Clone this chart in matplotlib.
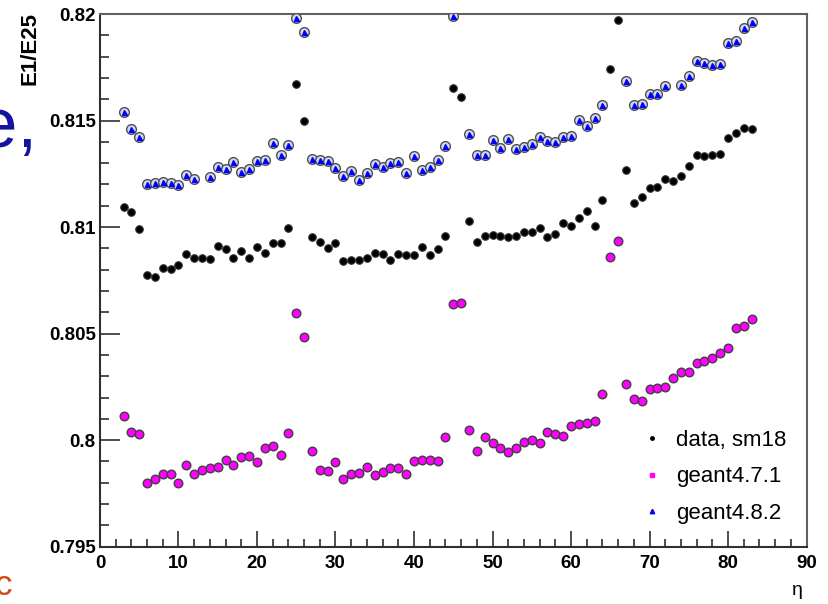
import numpy as np
import matplotlib
matplotlib.use("Agg")
import matplotlib.pyplot as plt
from matplotlib.lines import Line2D
from matplotlib.ticker import MultipleLocator, FuncFormatter

plt.rcParams['font.family'] = ['Liberation Sans', 'DejaVu Sans']

# ------------------------------------------------------------
# data
# ------------------------------------------------------------

eta = list(range(3, 84))

data_sm18 = [
    0.81093, 0.81071, 0.80991, 0.80775, 0.80767, 0.80810, 0.80802, 0.80822,
    0.80874, 0.80856, 0.80853, 0.80850, 0.80911, 0.80897, 0.80853, 0.80889,
    0.80853, 0.80908, 0.80877, 0.80924, 0.80924, 0.80994, 0.81670, 0.81499,
    0.80952, 0.80931, 0.80900, 0.80927, 0.80842, 0.80845, 0.80847, 0.80853,
    0.80877, 0.80874, 0.80845, 0.80874, 0.80869, 0.80869, 0.80908, 0.80869,
    0.80895, 0.80958, 0.81651, 0.81609, 0.81028, 0.80931, 0.80960, 0.80963,
    0.80960, 0.80955, 0.80958, 0.80975, 0.80975, 0.80994, 0.80955, 0.80966,
    0.81021, 0.81007, 0.81044, 0.81077, 0.81007, 0.81128, 0.81740, 0.81972,
    0.81268, 0.81111, 0.81140, 0.81182, 0.81190, 0.81226, 0.81217, 0.81241,
    0.81288, 0.81338, 0.81333, 0.81337, 0.81341, 0.81416, 0.81440, 0.81463,
    0.81458,
]

geant471 = [
    0.80115, 0.80037, 0.80027, 0.79800, 0.79816, 0.79839, 0.79842, 0.79801,
    0.79883, 0.79842, 0.79858, 0.79869, 0.79872, 0.79908, 0.79882, 0.79922,
    0.79924, 0.79897, 0.79965, 0.79971, 0.79932, 0.80032, 0.80595, 0.80486,
    0.79950, 0.79858, 0.79853, 0.79897, 0.79816, 0.79839, 0.79844, 0.79875,
    0.79836, 0.79851, 0.79867, 0.79867, 0.79841, 0.79904, 0.79907, 0.79907,
    0.79900, 0.80016, 0.80637, 0.80645, 0.80048, 0.79949, 0.80016, 0.79988,
    0.79965, 0.79943, 0.79965, 0.79990, 0.80001, 0.79988, 0.80040, 0.80029,
    0.80021, 0.80068, 0.80076, 0.80082, 0.80090, 0.80215, 0.80861, 0.80936,
    0.80262, 0.80191, 0.80185, 0.80240, 0.80243, 0.80250, 0.80290, 0.80321,
    0.80318, 0.80364, 0.80373, 0.80384, 0.80407, 0.80431, 0.80525, 0.80536,
    0.80567,
]

eta_g482 = (list(range(3, 13)) + list(range(14, 46)) + list(range(47, 65))
            + list(range(67, 73)) + list(range(74, 84)))

geant482 = [
    0.81538, 0.81459, 0.81424, 0.81201, 0.81205, 0.81212, 0.81205, 0.81196,
    0.81246, 0.81227,
    0.81237, 0.81283, 0.81271, 0.81304, 0.81260, 0.81273, 0.81312, 0.81315,
    0.81393, 0.81338, 0.81384, 0.81980, 0.81917, 0.81320, 0.81315, 0.81310,
    0.81279, 0.81241, 0.81265, 0.81221, 0.81252, 0.81294, 0.81280, 0.81299,
    0.81307, 0.81252, 0.81335, 0.81268, 0.81283, 0.81315, 0.81382, 0.81991,
    0.81435, 0.81338, 0.81338, 0.81409, 0.81370, 0.81412, 0.81366, 0.81374,
    0.81390, 0.81424, 0.81404, 0.81401, 0.81424, 0.81429, 0.81503, 0.81476,
    0.81510, 0.81573,
    0.81687, 0.81573, 0.81576, 0.81625, 0.81623, 0.81664,
    0.81667, 0.81709, 0.81779, 0.81768, 0.81760, 0.81765, 0.81862, 0.81872,
    0.81933, 0.81961,
]

err_data = 0.00012
err_geant = 0.0001

labels = ["data, sm18", "geant4.7.1", "geant4.8.2"]

# ------------------------------------------------------------
# figure
# ------------------------------------------------------------

fig = plt.figure(figsize=(8.29, 6.04), dpi=100)
ax = fig.add_axes([0.1206, 0.0949, 0.8523, 0.8819])

ax.errorbar(eta, data_sm18, yerr=err_data, xerr=0.35, fmt='o', ms=5.4,
            mfc='black', mec='#303030', mew=0.8, ecolor='black',
            elinewidth=1.0, capsize=1.5, zorder=3)

ax.errorbar(eta, geant471, yerr=err_geant, fmt='o', ms=6.2,
            mfc='#ff00ff', mec='#404040', mew=1.0, ecolor='#202020',
            elinewidth=1.0, capsize=1.8, zorder=3)

ax.errorbar(eta_g482, geant482, yerr=err_geant, fmt='o', ms=7.0,
            mfc='#d4daf0', mec='#505050', mew=1.0, ecolor='#202020',
            elinewidth=1.0, capsize=1.8, zorder=4)
ax.plot(eta_g482, geant482, '^', ms=3.6, color='#0000ff', zorder=5)

ax.set_xlim(0, 90)
ax.set_ylim(0.795, 0.82)

ax.xaxis.set_major_locator(MultipleLocator(10))
ax.xaxis.set_minor_locator(MultipleLocator(2))
ax.yaxis.set_major_locator(MultipleLocator(0.005))
ax.yaxis.set_minor_locator(MultipleLocator(0.001))
ax.yaxis.set_major_formatter(FuncFormatter(lambda v, p: "%g" % round(v, 4)))

ax.tick_params(axis='both', which='both', direction='in', top=False,
               right=False, color='#303030', width=1.2)
ax.tick_params(axis='x', which='major', length=11.5, pad=6)
ax.tick_params(axis='x', which='minor', length=5.8)
ax.tick_params(axis='y', which='major', length=14.4, pad=3)
ax.tick_params(axis='y', which='minor', length=6.5)

for lab in ax.get_xticklabels() + ax.get_yticklabels():
    lab.set_fontsize(13.5)
    lab.set_fontweight('bold')

for side in ['left', 'bottom']:
    ax.spines[side].set_color('#303030')
    ax.spines[side].set_linewidth(1.5)
for side in ['top', 'right']:
    ax.spines[side].set_color('#606060')
    ax.spines[side].set_linewidth(1.5)

fig.text(0.036, 0.98, "E1/E25", rotation=90, ha='center', va='top',
         fontsize=16, fontweight='bold')
fig.text(0.962, 0.023, "\u03b7", ha='center', va='center', fontsize=14)

handles = [
    Line2D([], [], ls='none', marker='o', ms=2.5, color='black'),
    Line2D([], [], ls='none', marker='s', ms=3.2, color='#ff00ff'),
    Line2D([], [], ls='none', marker='^', ms=3.2, color='#0000ff'),
]
ax.legend(handles, labels, loc='upper left', bbox_to_anchor=(0.753, 0.236),
          frameon=False, fontsize=16, handlelength=1.0, handletextpad=0.6,
          labelspacing=0.7, borderaxespad=0)

# fragments of the slide around the plot
fig.text(-0.027, 0.757, "e,", fontsize=51, color='#14149c', ha='left',
         va='baseline')
fig.text(-0.007, 0.015, "c", fontsize=25, color='#d04a10', ha='left',
         va='baseline')

fig.savefig("out.png", dpi=100)
